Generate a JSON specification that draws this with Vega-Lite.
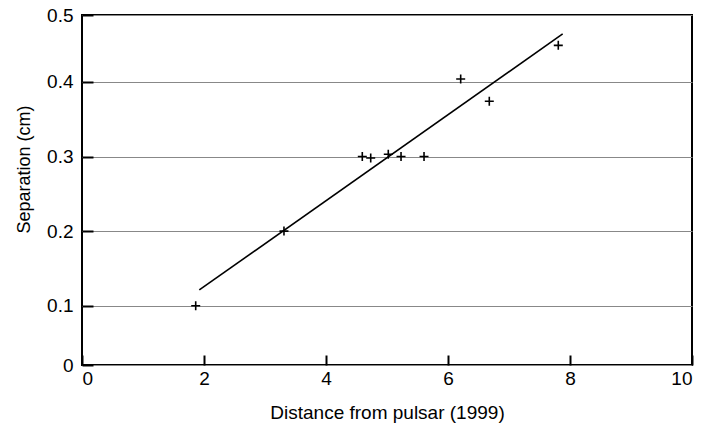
{
  "$schema": "https://vega.github.io/schema/vega-lite/v6.json",
  "width": 610,
  "height": 350,
  "autosize": "none",
  "padding": {"left": 82, "top": 15, "right": 21, "bottom": 64},
  "background": "white",
  "config": {
    "view": {"stroke": "black", "strokeWidth": 2},
    "font": "Liberation Sans",
    "axis": {
      "labelFont": "Liberation Sans",
      "titleFont": "Liberation Sans",
      "labelColor": "black",
      "titleColor": "black",
      "labelFontSize": 19,
      "titleFontSize": 18,
      "titleFontWeight": "normal",
      "domain": false,
      "tickColor": "black",
      "tickWidth": 2
    }
  },
  "datasets": {
    "points": [
      {"distance": 1.864, "separation": 0.100},
      {"distance": 3.311, "separation": 0.200},
      {"distance": 4.595, "separation": 0.300},
      {"distance": 4.733, "separation": 0.298},
      {"distance": 5.021, "separation": 0.303},
      {"distance": 5.230, "separation": 0.300},
      {"distance": 5.607, "separation": 0.300},
      {"distance": 6.208, "separation": 0.404},
      {"distance": 6.677, "separation": 0.374},
      {"distance": 7.808, "separation": 0.449}
    ],
    "fit": [
      {"distance": 1.923, "separation": 0.1211},
      {"distance": 7.880, "separation": 0.4644}
    ]
  },
  "layer": [
    {
      "data": {"name": "points"},
      "mark": {
        "type": "point",
        "shape": "M-1,0H1M0,-1V1",
        "filled": false,
        "stroke": "black",
        "strokeWidth": 1.6,
        "size": 81,
        "opacity": 1
      },
      "encoding": {
        "x": {
          "field": "distance",
          "type": "quantitative",
          "scale": {"domain": [0, 10], "nice": false, "zero": false},
          "axis": {
            "title": "Distance from pulsar (1999)",
            "titleFontSize": 19,
            "values": [0, 2, 4, 6, 8, 10],
            "format": "d",
            "grid": false,
            "tickSize": -10,
            "labelPadding": 14,
            "titleBaseline": "alphabetic",
            "titleY": 53
          }
        },
        "y": {
          "field": "separation",
          "type": "quantitative",
          "scale": {"domain": [0.0205, 0.4897], "nice": false, "zero": false},
          "axis": {
            "title": "Separation (cm)",
            "values": [0.0205, 0.1, 0.2, 0.3, 0.4, 0.4897],
            "labelExpr": "datum.value < 0.05 ? '0' : (datum.value > 0.45 ? '0.5' : format(datum.value, '.1f'))",
            "grid": true,
            "gridColor": "#888888",
            "gridWidth": 1,
            "gridOpacity": 1,
            "tickSize": -11,
            "labelPadding": 20,
            "titleAngle": -90,
            "titleAlign": "center",
            "titleBaseline": "alphabetic",
            "titleX": -53,
            "titleY": 154
          }
        }
      }
    },
    {
      "data": {"name": "fit"},
      "mark": {"type": "line", "color": "black", "strokeWidth": 1.6},
      "encoding": {
        "x": {"field": "distance", "type": "quantitative"},
        "y": {"field": "separation", "type": "quantitative"}
      }
    }
  ]
}
